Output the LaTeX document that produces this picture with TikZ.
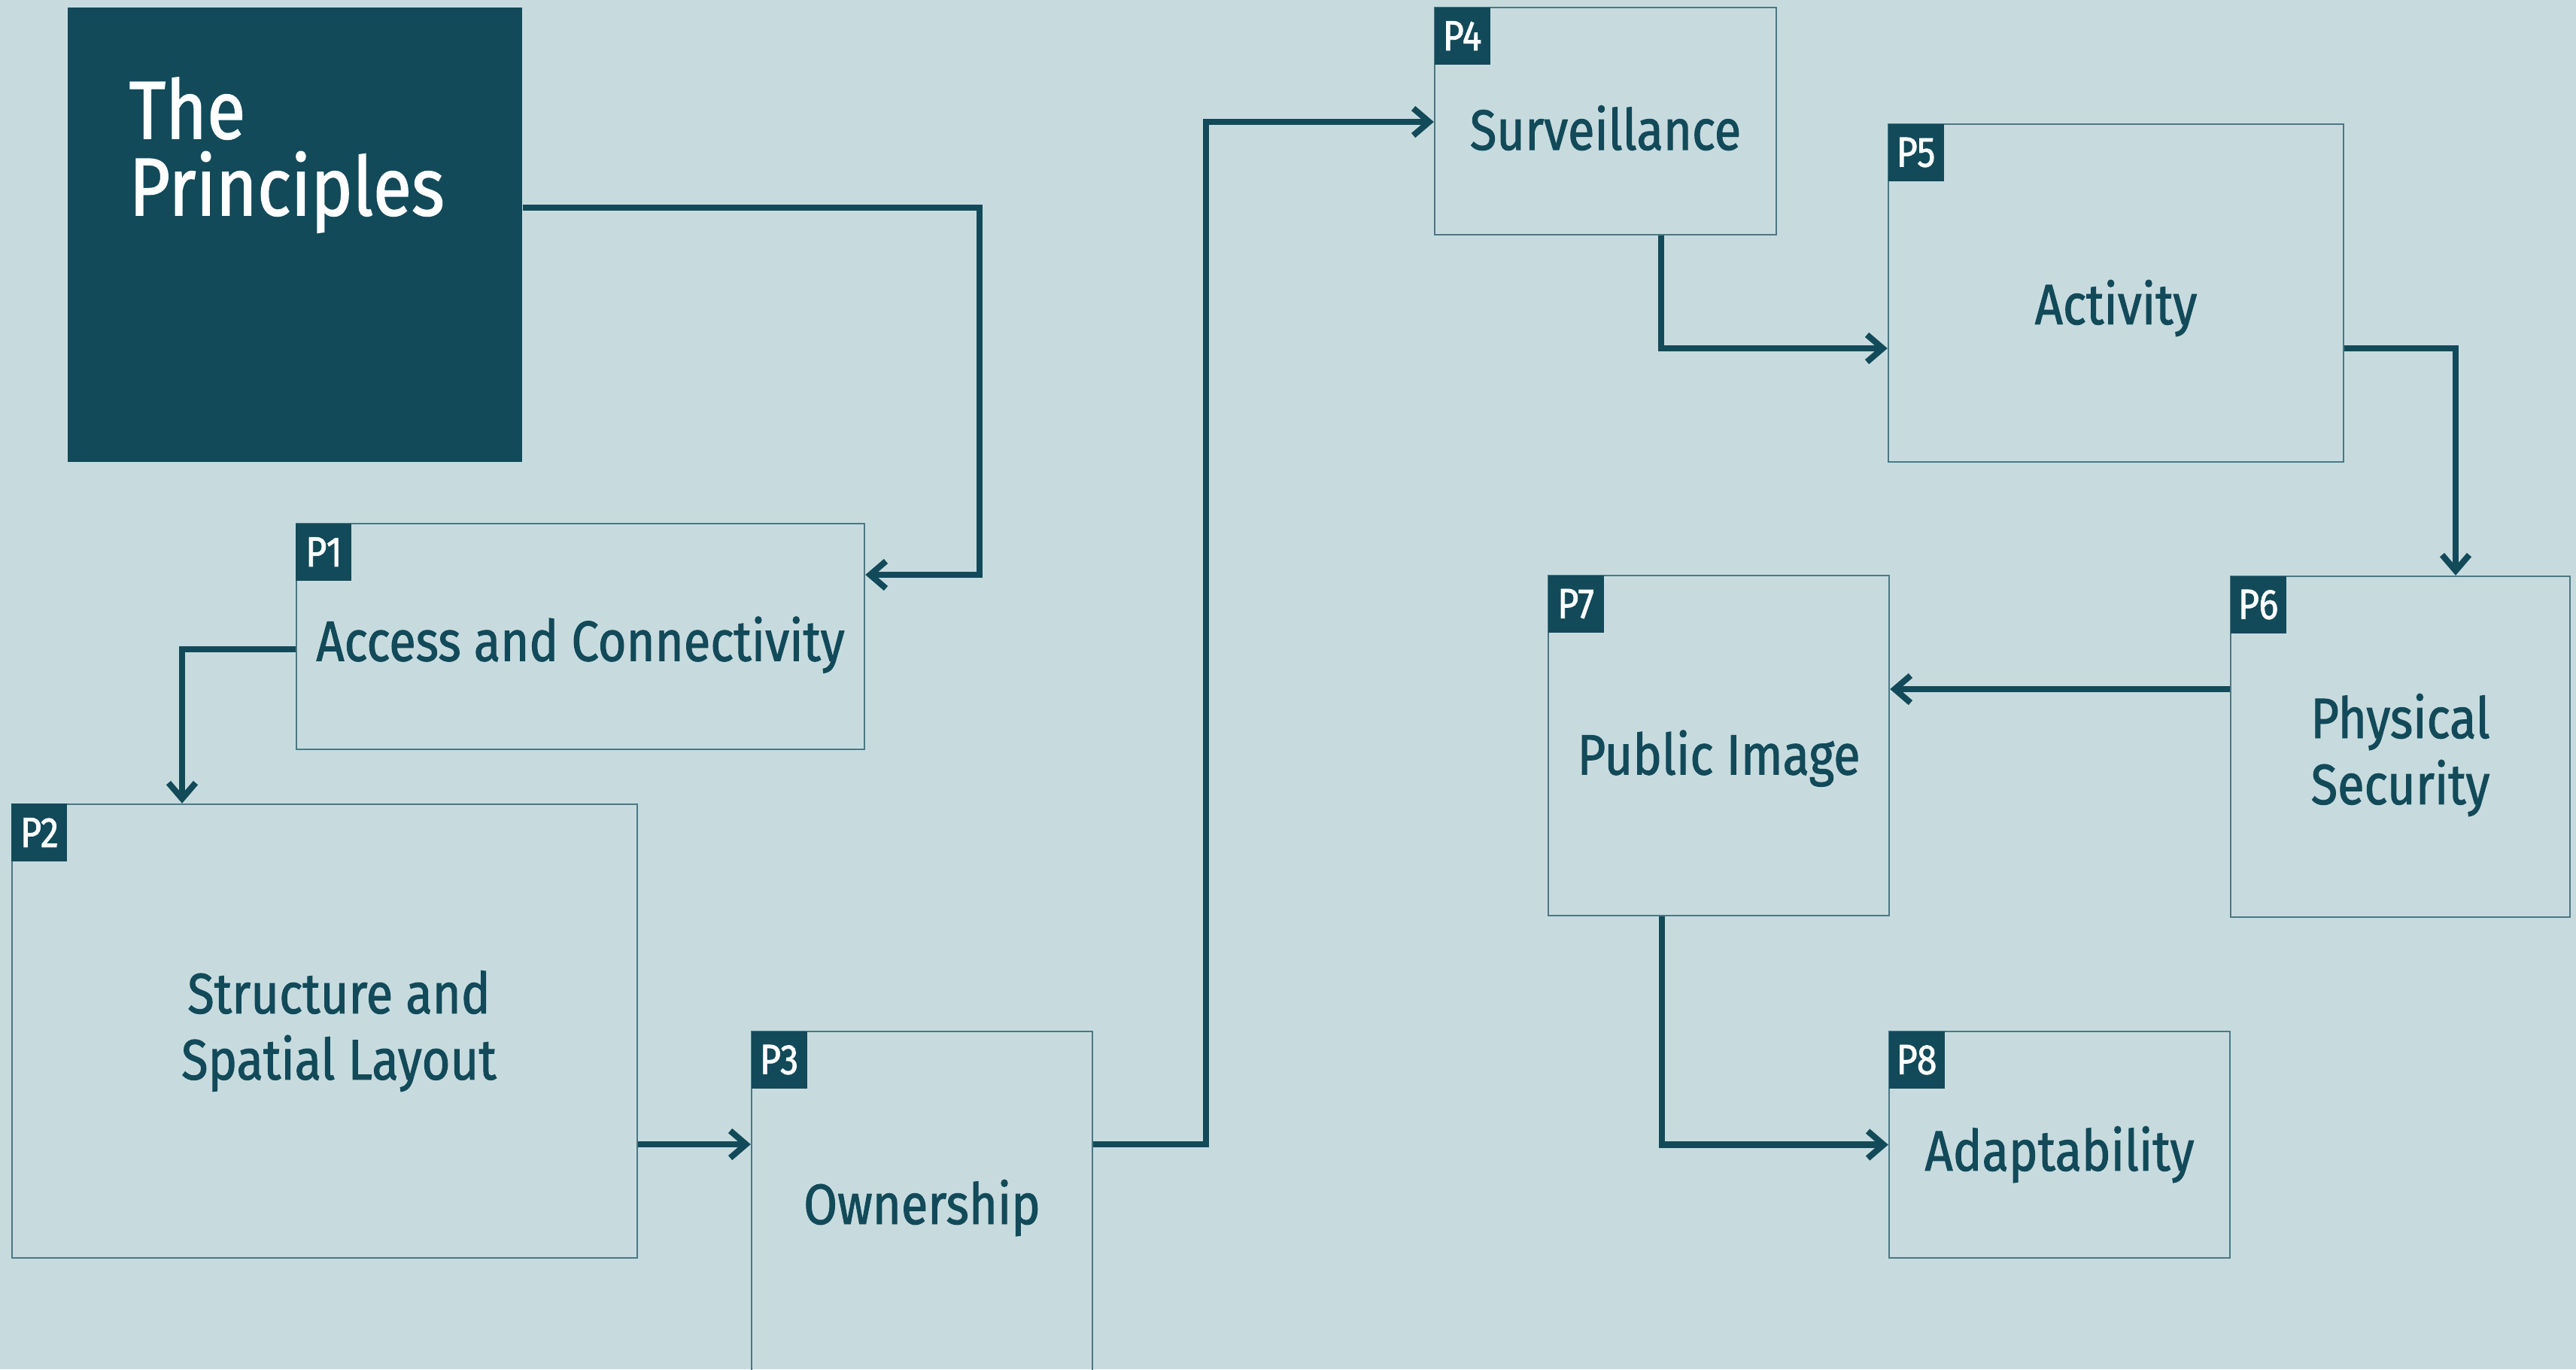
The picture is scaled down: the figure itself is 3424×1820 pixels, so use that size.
\documentclass[tikz,border=0pt]{standalone}
\usepackage{fontspec}
\setmainfont{Fira Sans}[FakeStretch=0.86,FakeBold=1.3]
\usetikzlibrary{arrows.meta, positioning}
\definecolor{bgblue}{HTML}{C7DBDF}
\definecolor{deepteal}{HTML}{124A59}
\definecolor{edgeteal}{HTML}{4B7884}

\begin{document}
\begin{tikzpicture}[x=0.01cm, y=-0.01cm,
  box/.style={draw=edgeteal, line width=0.6pt, inner sep=0pt},
  lbl/.style={inner sep=0pt, align=center, text=deepteal, font=\fontsize{21.5}{25}\selectfont},
  tag/.style={fill=deepteal, text=white, anchor=north west, minimum width=0.74cm, minimum height=0.76cm, inner sep=0pt, font=\fontsize{16}{16}\selectfont},
  link/.style={draw=deepteal, line width=2.3pt, -{Straight Barb[length=0.21cm, width=0.36cm]}}]

  \fill[bgblue] (0,0) rectangle (3424,1820);
  \useasboundingbox (0,0) rectangle (3424,1820);
  \clip (0,0) rectangle (3424,1820);

  % title block
  \node[fill=deepteal, minimum width=6.04cm, minimum height=6.03cm] (title) at (392,312) {};
  \node[anchor=north west, inner sep=0pt, align=left, text=white, font=\fontsize{31}{29}\selectfont] (heading) at (171,102) {The\\Principles};

  % principle boxes
  \node[box, minimum width=7.55cm, minimum height=3.00cm] (p1) at (771.5,846) {};
  \node[box, minimum width=8.31cm, minimum height=6.03cm] (p2) at (431.5,1370.5) {};
  \node[box, minimum width=4.53cm, minimum height=4.59cm] (p3) at (1225.5,1600.5) {};
  \node[box, minimum width=4.54cm, minimum height=3.02cm] (p4) at (2134,161) {};
  \node[box, minimum width=6.05cm, minimum height=4.49cm] (p5) at (2812.5,389.5) {};
  \node[box, minimum width=4.51cm, minimum height=4.53cm] (p6) at (3190.5,992.5) {};
  \node[box, minimum width=4.53cm, minimum height=4.52cm] (p7) at (2284.5,991) {};
  \node[box, minimum width=4.53cm, minimum height=3.01cm] (p8) at (2737.5,1521.5) {};

  % box texts
  \node[lbl] (l1) at ([yshift=-0.11cm]p1.center) {Access and Connectivity};
  \node[lbl] (l2) at ([xshift=0.19cm]p2.center) {Structure and\\Spatial Layout};
  \node[lbl] (l3) at ([yshift=-0.05cm]p3.center) {Ownership};
  \node[lbl] (l4) at ([yshift=-0.09cm]p4.center) {Surveillance};
  \node[lbl] (l5) at ([yshift=-0.2cm]p5.center) {Activity};
  \node[lbl] (l6) at ([yshift=-0.11cm]p6.center) {Physical\\Security};
  \node[lbl] (l7) at ([yshift=-0.17cm]p7.center) {Public Image};
  \node[lbl] (l8) at ([yshift=-0.13cm]p8.center) {Adaptability};

  % tags
  \foreach \i in {1,...,8}
    \node[tag] (t\i) at (p\i.north west) {P\i};

  % links
  \draw[link] (title.east |- 0,276) -| (1302,764) -- (p1.east |- 0,764);
  \draw[link] (p1.west |- 0,863) -| (p2.north -| 242,0);
  \draw[link] (p2.east |- 0,1521) -- (p3.west |- 0,1521);
  \draw[link] (p3.east |- 0,1521) -| (1603,162) -- (p4.west |- 0,162);
  \draw[link] (p4.south -| 2208,0) |- (p5.west |- 0,463);
  \draw[link] (p5.east |- 0,463) -| (p6.north -| 3264,0);
  \draw[link] (p6.west |- 0,916) -- (p7.east |- 0,916);
  \draw[link] (p7.south -| 2209,0) |- (p8.west);
\end{tikzpicture}
\end{document}
